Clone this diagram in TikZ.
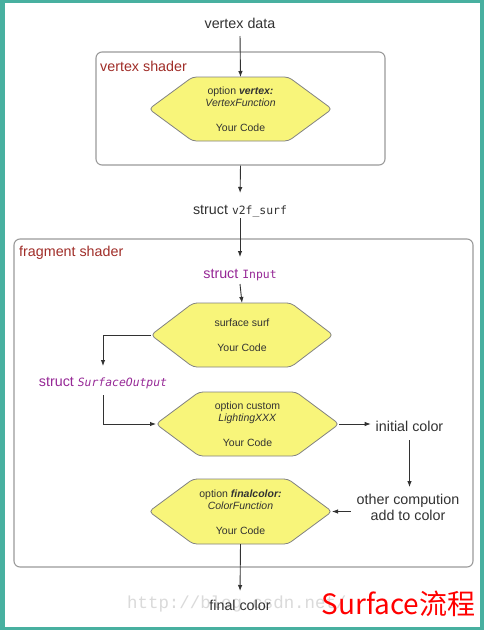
\documentclass[tikz,border=0pt]{standalone}
\usepackage{fontspec}
\setmainfont{Liberation Sans}
\newfontfamily\monof{DejaVu Sans Mono}
\newfontfamily\cjk{Noto Sans CJK SC}
\newfontfamily\wmfont{Liberation Mono}
\usetikzlibrary{arrows.meta}
\definecolor{frame}{RGB}{72,176,160}
\definecolor{hexfill}{RGB}{248,245,122}
\definecolor{hexline}{RGB}{130,130,130}
\definecolor{boxline}{RGB}{155,155,155}
\definecolor{darkred}{RGB}{160,45,40}
\definecolor{purp}{RGB}{150,40,150}
\definecolor{txt}{RGB}{50,50,50}
\definecolor{wm}{RGB}{218,218,218}
\tikzset{
  arr/.style={draw=txt, line width=0.9pt, -{Latex[length=6pt,width=4.5pt]}},
  lbl/.style={text=txt, font=\fontsize{14.3}{17}\selectfont, inner sep=0pt, outer sep=0pt, text height=14pt, text depth=6pt},
  sectlbl/.style={text=darkred, font=\fontsize{14.3}{17}\selectfont, inner sep=0pt, anchor=west},
  structlbl/.style={lbl, text=purp},
  shaderbox/.style={draw=boxline, line width=1.1pt, rounded corners=6pt, inner sep=0pt},
  hexbox/.style={fill=hexfill, draw=hexline, line width=0.8pt, rounded corners=4pt},
  hextext/.style={text=txt, font=\fontsize{10.5}{12}\selectfont, align=center, inner sep=0pt},
}
\newcommand\hexa[6]{%
  \path[hexbox] (#2-#5,#3-#6) -- (#2+#5,#3-#6) -- (#2+#4,#3) -- (#2+#5,#3+#6) -- (#2-#5,#3+#6) -- (#2-#4,#3) -- cycle;
  \coordinate (#1l) at (#2-#4,#3);
  \coordinate (#1r) at (#2+#4,#3);
  \coordinate (#1t) at (#2,#3-#6);
  \coordinate (#1b) at (#2,#3+#6);
}
\begin{document}
\begin{tikzpicture}[x=1pt,y=-1pt]
\useasboundingbox (0,0) rectangle (484,630);
\fill[frame] (0,0) rectangle (484,630);
\fill[white] (5,2.5) rectangle (480,627);

% watermark
\node[anchor=west, inner sep=0pt, text=wm, font=\wmfont\fontsize{17.4}{20}\selectfont] (wmk) at (127,604) {http://blog.csdn.net/};

% vertex shader
\node[shaderbox, minimum width=289pt, minimum height=113pt] (vbox) at (240.5,108.5) {};
\node[sectlbl] (vsl) at (100,66) {vertex shader};
\node[lbl] (vd) at (240,24) {vertex data};
\hexa{hA}{240.5}{109}{91.5}{48}{32}
\node[hextext] (h1) at (240.5,109) {option \textbf{\textit{vertex:}}\\\textit{VertexFunction}\\[13pt]Your Code};

\node[lbl] (v2f) at (240,210) {struct {\monof\fontsize{11.4}{14}\selectfont v2f\_surf}};

% fragment shader
\node[shaderbox, minimum width=459pt, minimum height=328pt] (fbox) at (243.5,403) {};
\node[sectlbl] (fsl) at (19,253) {fragment shader};
\node[structlbl] (si) at (240,274) {struct {\monof\fontsize{11.4}{14}\selectfont Input}};

\hexa{hB}{242}{335}{91}{49}{32}
\node[hextext] (h2) at (242,335.5) {surface surf\\[13pt]Your Code};

\node[structlbl] (so) at (103,382) {struct {\monof\itshape\fontsize{11.4}{14}\selectfont SurfaceOutput}};

\hexa{hC}{247.5}{424}{91.5}{48.5}{32}
\node[hextext] (h3) at (247.5,424) {option custom\\\textit{LightingXXX}\\[13pt]Your Code};

\node[lbl] (ic) at (409.5,427) {initial color};
\node[text=txt, font=\fontsize{14.3}{16}\selectfont, align=center, inner sep=0pt] (oc) at (408,507.5) {other compution\\add to color};

\hexa{hD}{240.5}{511.5}{91.5}{47.5}{32.5}
\node[hextext] (h4) at (240.5,512) {option \textbf{\textit{finalcolor:}}\\\textit{ColorFunction}\\[13pt]Your Code};

\node[lbl] (fc) at (240,606) {final color};

% connectors
\draw[arr, shorten <=2pt] (vd.south) -- (hAt);
\draw[arr, shorten >=7pt] (vbox.south) -- (v2f.north);
\draw[arr, shorten >=7pt, shorten <=-2pt] (v2f.south) -- (si.north);
\draw[arr] (si.south) -- (hBt);
\draw[arr, shorten >=6pt] (hBl) -| (so.north);
\draw[arr, shorten <=3pt] (so.south) |- (hCl);
\draw[arr, shorten >=5pt] (hCr) -- (hCr -| ic.west);
\draw[arr, shorten <=3pt, shorten >=7pt] (ic.south) -- (ic.south |- oc.north);
\draw[arr, shorten <=6pt] (hDr -| oc.west) -- (hDr);
\draw[arr, shorten >=5pt] (hDb) -- (fc.north);

\node[text=red, font=\cjk\fontsize{28}{32}\selectfont, inner sep=0pt] (title) at (398.5,604) {Surface流程};
\end{tikzpicture}
\end{document}
